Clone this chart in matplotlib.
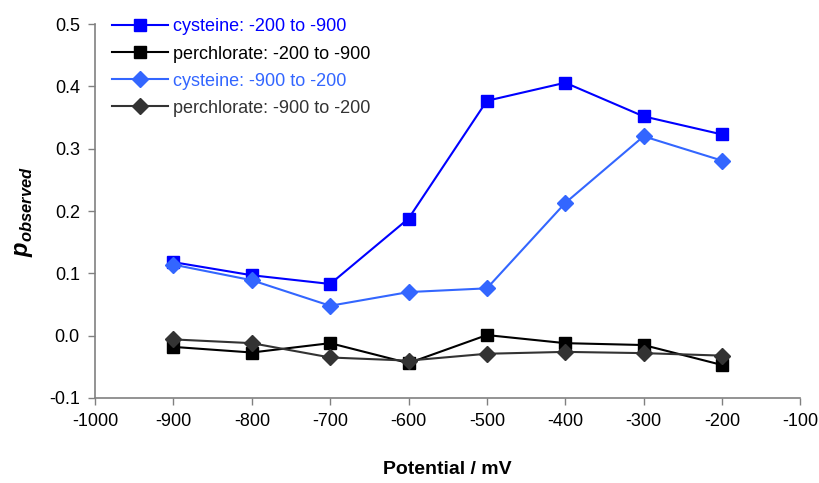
import matplotlib
matplotlib.use("Agg")
import matplotlib.pyplot as plt

# Potential steps (mV) and the observed p values for each sweep direction
potential = [-900, -800, -700, -600, -500, -400, -300, -200]
cys_down = [0.118, 0.097, 0.083, 0.188, 0.377, 0.406, 0.352, 0.323]
perc_down = [-0.018, -0.027, -0.012, -0.044, 0.001, -0.012, -0.015, -0.047]
cys_up = [0.114, 0.089, 0.048, 0.070, 0.076, 0.213, 0.320, 0.281]
perc_up = [-0.006, -0.012, -0.035, -0.040, -0.029, -0.026, -0.028, -0.032]

labels = ["cysteine: -200 to -900", "perchlorate: -200 to -900",
          "cysteine: -900 to -200", "perchlorate: -900 to -200"]
x_ticks = list(range(-1000, 0, 100))
y_ticks = [-0.1, 0.0, 0.1, 0.2, 0.3, 0.4, 0.5]

plt.rcParams["font.family"] = "Liberation Sans"
plt.rcParams["axes.unicode_minus"] = False
plt.rcParams["mathtext.fontset"] = "custom"
plt.rcParams["mathtext.bfit"] = "Liberation Sans:bold:italic"

fig = plt.figure(figsize=(8.2, 4.83), dpi=100)
ax = fig.add_axes([0.116, 0.176, 0.860, 0.774])

ax.plot(potential, cys_down, color="#0000ff", marker="s", markersize=9, lw=1.5, label=labels[0])
ax.plot(potential, perc_down, color="#000000", marker="s", markersize=9, lw=1.5, label=labels[1])
ax.plot(potential, cys_up, color="#3366ff", marker="D", markersize=8.5, lw=1.5, label=labels[2])
ax.plot(potential, perc_up, color="#333333", marker="D", markersize=8.5, lw=1.5, label=labels[3])

ax.set_xlim(-1000, -100)
ax.set_ylim(-0.1, 0.5)
ax.set_xticks(x_ticks)
ax.set_yticks(y_ticks)
ax.set_yticklabels([f"{v:.1f}" for v in y_ticks])

for side in ("top", "right"):
    ax.spines[side].set_visible(False)
for side in ("left", "bottom"):
    ax.spines[side].set_color("#808080")
    ax.spines[side].set_linewidth(1.2)
ax.tick_params(direction="out", length=5, width=1, color="#808080",
               labelsize=13, pad=6)

ax.set_xlabel("Potential / mV", fontsize=14, fontweight="bold", labelpad=22)
ax.set_ylabel(r"$\mathbfit{p}_{\mathbfit{observed}}$", fontsize=17, labelpad=10)

leg = ax.legend(loc="upper left", bbox_to_anchor=(0.006, 1.049), frameon=False,
                fontsize=13, handlelength=3.1, handletextpad=0.3,
                labelspacing=0.56, borderaxespad=0.3)
for text, line in zip(leg.get_texts(), leg.get_lines()):
    text.set_color(line.get_color())

fig.savefig("out.png", dpi=100)
